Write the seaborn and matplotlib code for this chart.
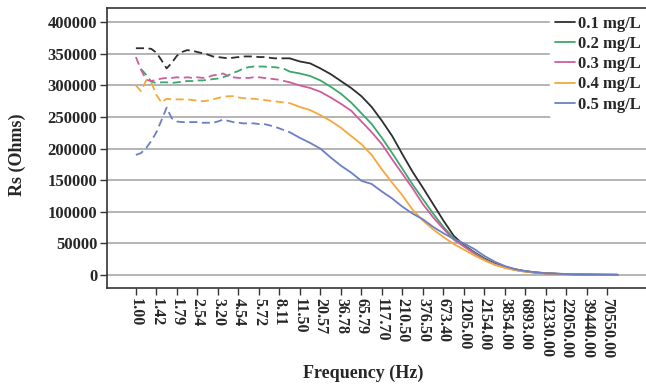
import numpy as np
import pandas as pd
import seaborn as sns
import matplotlib.pyplot as plt

# frequency tick labels (Hz), one per category position
freq_labels = ["1.00", "1.42", "1.79", "2.54", "3.20", "4.54", "5.72", "8.11",
               "11.50", "20.57", "36.78", "65.79", "117.70", "210.50", "376.50",
               "673.40", "1205.00", "2154.00", "3854.00", "6893.00", "12330.00",
               "22050.00", "39440.00", "70550.00"]

# sample positions (in category units): quarter steps at low freq, half steps after
pos_low = np.arange(0, 7.75, 0.25)
pos_high = np.arange(7.5, 24.0, 0.5)

# Rs (Ohms), low-frequency (noisy, dashed) part
rs01_low = [359000, 359000, 359000, 358000, 352000, 340000, 327000, 336000, 347000, 353000,
            356000, 355000, 353000, 351000, 349000, 346000, 345000, 344000, 343000, 344000,
            345000, 346000, 346000, 346000, 345000, 345000, 344000, 343000, 343000, 343000, 343000]
rs02_low = [np.nan, 326000, 317000, 306000, 304000, 305000, 305000, 304000, 305000, 306000,
            307000, 307000, 308000, 308000, 309000, 310000, 311000, 313000, 316000, 320000,
            323000, 327000, 329000, 330000, 330000, 330000, 329000, 329000, 328000, 326000, 322000]
rs03_low = [345000, 325000, 309000, 307000, 309000, 311000, 312000, 312000, 313000, 312000,
            313000, 312000, 313000, 312000, 313000, 316000, 317000, 319000, 315000, 313000,
            312000, 312000, 312000, 313000, 313000, 312000, 311000, 310000, 309000, 307000, 305000]
rs04_low = [300000, 291000, 308000, 305000, 285000, 273000, 279000, 278000, 278000, 278000,
            278000, 277000, 276000, 275000, 276000, 278000, 280000, 282000, 283000, 283000,
            281000, 280000, 279000, 279000, 278000, 277000, 276000, 275000, 274000, 273000, 272000]
rs05_low = [190000, 193000, 201000, 212000, 226000, 245000, 265000, 248000, 243000, 242000,
            242000, 242000, 242000, 241000, 241000, 241000, 243000, 246000, 244000, 242000,
            241000, 240000, 240000, 240000, 239000, 239000, 237000, 235000, 232000, 229000, 226000]

# Rs (Ohms), high-frequency (smooth, solid) part
rs01_high = [343000, 338000, 335000, 327000, 318000, 307000, 296000, 283000, 266000, 244000,
             220000, 191000, 163000, 138000, 112000, 86000, 62000, 47000, 36000, 26000,
             18000, 13000, 9000, 6000, 4000, 2800, 2000, 1400, 1000, 700, 500, 300, 200]
rs02_high = [322000, 319000, 315000, 308000, 298000, 287000, 273000, 256000, 239000, 217000,
             193000, 168000, 143000, 120000, 97000, 76000, 58000, 46000, 35000, 25000,
             17000, 12000, 8000, 5500, 3700, 2500, 1800, 1200, 900, 600, 400, 300, 200]
rs03_high = [305000, 300000, 296000, 290000, 281000, 271000, 260000, 243000, 226000, 207000,
             183000, 160000, 137000, 112000, 91000, 73000, 56000, 45000, 34000, 24000,
             16500, 11500, 8000, 5300, 3500, 2400, 1700, 1200, 850, 600, 400, 300, 200]
rs04_high = [272000, 266000, 261000, 253000, 244000, 233000, 220000, 207000, 190000, 167000,
             146000, 126000, 103000, 86000, 72000, 60000, 49000, 40000, 31000, 23000,
             16000, 11000, 7500, 5000, 3400, 2300, 1600, 1100, 800, 550, 400, 300, 200]
rs05_high = [226000, 217000, 209000, 200000, 186000, 173000, 162000, 149000, 144000, 132000,
             121000, 108000, 97000, 88000, 76000, 66000, 57000, 50000, 41000, 30000,
             21000, 14000, 9000, 6000, 4000, 2700, 1900, 1300, 900, 600, 400, 300, 200]

series = [
    ("0.1 mg/L", rs01_low, rs01_high, "#2e2e2e"),
    ("0.2 mg/L", rs02_low, rs02_high, "#3aa86b"),
    ("0.3 mg/L", rs03_low, rs03_high, "#cf5c9c"),
    ("0.4 mg/L", rs04_low, rs04_high, "#f6a83c"),
    ("0.5 mg/L", rs05_low, rs05_high, "#6b7fc6"),
]

sns.set_style("white")
plt.rcParams["font.family"] = ["Liberation Serif", "DejaVu Serif"]
plt.rcParams["font.weight"] = "bold"

fig = plt.figure(figsize=(6.46, 3.87), dpi=100)
ax = fig.add_axes([0.1656, 0.256, 0.8344, 0.723])

for name, low, high, col in series:
    d_low = pd.DataFrame({"pos": pos_low, "rs": low}).dropna()
    d_high = pd.DataFrame({"pos": pos_high, "rs": high})
    sns.lineplot(data=d_low, x="pos", y="rs", ax=ax, color=col, lw=1.3,
                 linestyle=(0, (4.5, 2.5)), legend=False)
    sns.lineplot(data=d_high, x="pos", y="rs", ax=ax, color=col, lw=1.3, label=name)

ax.set_xlim(-1.41, 24.88)
ax.set_ylim(-20600, 422500)
ax.set_yticks(np.arange(0, 400001, 50000))
ax.set_yticklabels([str(v) for v in range(0, 400001, 50000)], fontsize=12, fontweight="bold")
ax.set_xticks(np.arange(len(freq_labels)))
ax.set_xticklabels(freq_labels, rotation=-90, fontsize=11.5, fontweight="bold")
ax.yaxis.grid(True, color="#a8a8a8", lw=1.2)
ax.xaxis.grid(False)
ax.set_axisbelow(True)

for s in ["left", "top", "bottom"]:
    ax.spines[s].set_visible(True)
    ax.spines[s].set_color("#333333")
    ax.spines[s].set_linewidth(1.2)
ax.spines["right"].set_visible(False)
ax.tick_params(axis="both", which="major", direction="out", length=5, width=1,
               color="#333333", pad=2, left=True, bottom=True)

ax.set_xlabel("Frequency (Hz)", fontsize=13, fontweight="bold")
ax.set_ylabel("Rs (Ohms)", fontsize=13, fontweight="bold")
ax.xaxis.set_label_coords(0.475, -0.275)
ax.yaxis.set_label_coords(-0.15, 0.475)

leg = ax.legend(loc="upper right", bbox_to_anchor=(1.0, 0.99), frameon=True,
                handlelength=1.2, handletextpad=0.2, labelspacing=0.25,
                borderaxespad=0.0, borderpad=0.3, prop={"size": 12, "weight": "bold"})
leg.get_frame().set_facecolor("white")
leg.get_frame().set_edgecolor("white")
leg.get_frame().set_alpha(1.0)

fig.savefig("out.png", dpi=100)
